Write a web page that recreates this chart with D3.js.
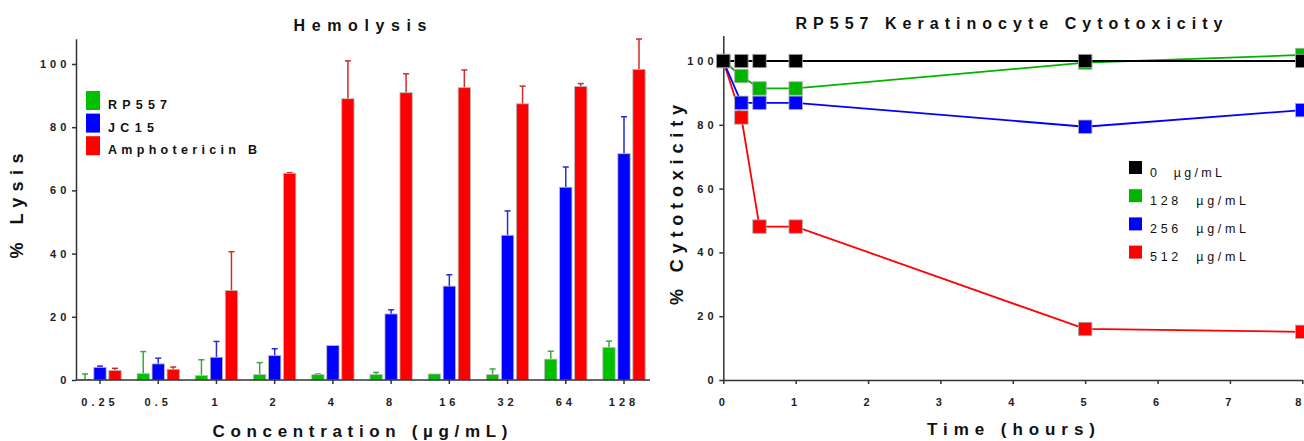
<!DOCTYPE html>
<html>
<head>
<meta charset="utf-8">
<script src="https://cdn.jsdelivr.net/npm/d3@7"></script>
<style>
  body { margin: 0; background: #fff; }
  svg { display: block; font-family: 'Liberation Sans', Arial, sans-serif; }
  .axis path, .axis line { stroke: #333; stroke-width: 1.5px; }
  .axis text { font-size: 11px; font-weight: bold; fill: #222; letter-spacing: 4px; }
</style>
</head>
<body>
<div class="charts"></div>
<script>
'use strict';

// hemolysis (left)
var concentrations = ['0.25', '0.5', '1', '2', '4', '8', '16', '32', '64', '128'];
var seriesNames = ['RP557', 'JC15', 'Amphotericin B'];
var rp557Lysis = [0.1, 2.0, 1.4, 1.7, 1.7, 1.7, 1.9, 1.7, 6.6, 10.3];
var rp557Sd = [1.8, 7.0, 5.0, 3.8, 0.2, 0.7, 0, 1.8, 2.5, 2.0];
var jc15Lysis = [4.0, 5.1, 7.2, 7.7, 10.9, 20.9, 29.7, 45.8, 61.0, 71.6];
var jc15Sd = [0.4, 1.8, 5.0, 2.2, 0, 1.3, 3.6, 7.7, 6.4, 11.7];
var ampBLysis = [3.0, 3.4, 28.3, 65.4, 89.0, 90.9, 92.5, 87.4, 92.9, 98.3];
var ampBSd = [0.7, 0.7, 12.3, 0.2, 12.0, 6.0, 5.6, 5.6, 0.9, 9.6];
var lysisTicks = [0, 20, 40, 60, 80, 100];

// keratinocyte cytotoxicity (right)
var timeHours = [0, 0.25, 0.5, 1, 5, 8];
var doseLabels = ['0 \u00b5g/mL', '128 \u00b5g/mL', '256 \u00b5g/mL', '512 \u00b5g/mL'];
var dose0 = [100, 100, 100, 100, 100, 100];
var dose128 = [100, 95.3, 91.4, 91.4, 99.5, 101.9];
var dose256 = [100, 86.9, 86.9, 86.9, 79.4, 84.6];
var dose512 = [100, 82.3, 48.1, 48.1, 16.0, 15.1];
var cytoTicks = [0, 20, 40, 60, 80, 100];
var timeTicks = [0, 1, 2, 3, 4, 5, 6, 7, 8];

var barColors = ['#00c000', '#0000ff', '#ff0000'];
var errColors = ['#3aa83a', '#2a2ad8', '#d42a2a'];
var lineColors = ['#000000', '#00b400', '#0000ff', '#ff0000'];

var svg = d3.select('.charts').append('svg')
  .attr('width', 1304)
  .attr('height', 441);

function bigText(g, x, y, str, size, len, rotate) {
  var t = g.append('text')
    .attr('text-anchor', 'middle')
    .style('font-size', size + 'px')
    .style('font-weight', 'bold')
    .style('fill', '#111')
    .attr('textLength', len)
    .attr('lengthAdjust', 'spacing')
    .text(str);
  if (rotate) {
    t.attr('transform', 'translate(' + x + ',' + y + ') rotate(-90)');
  } else {
    t.attr('x', x).attr('y', y);
  }
  return t;
}

///////////////////////HEMOLYSIS BAR CHART///////////////////////////////
(function() {
  var left = 76, right = 650, top = 38.7, bottom = 380;
  var step = (624 - 100) / 9;

  var x0 = d3.scaleBand()
    .domain(concentrations)
    .range([100 - step / 2, 624 + step / 2]);
  var x1 = d3.scaleBand()
    .domain(seriesNames)
    .range([0, 45])
    .paddingInner(0.18)
    .paddingOuter(0.09);
  var y = d3.scaleLinear()
    .domain([0, 108])
    .range([bottom, top]);

  var means = [rp557Lysis, jc15Lysis, ampBLysis];
  var sds = [rp557Sd, jc15Sd, ampBSd];
  var rows = [];
  concentrations.forEach(function(c, i) {
    seriesNames.forEach(function(s, j) {
      rows.push({conc: c, series: s, idx: j, mean: means[j][i], sd: sds[j][i]});
    });
  });
  var groupOffset = (x0.bandwidth() - 45) / 2;
  function barX(d) { return x0(d.conc) + groupOffset + x1(d.series); }

  var g = svg.append('g');

  // error bars (upper only)
  var err = g.selectAll('.err')
    .data(rows.filter(function(d) { return d.sd > 0; }))
    .enter().append('g')
    .attr('class', 'err')
    .style('stroke', function(d) { return errColors[d.idx]; })
    .style('stroke-width', 1.5);
  err.append('line')
    .attr('x1', function(d) { return barX(d) + x1.bandwidth() / 2; })
    .attr('x2', function(d) { return barX(d) + x1.bandwidth() / 2; })
    .attr('y1', function(d) { return y(d.mean); })
    .attr('y2', function(d) { return y(d.mean + d.sd); });
  err.append('line')
    .attr('x1', function(d) { return barX(d) + x1.bandwidth() / 2 - 3; })
    .attr('x2', function(d) { return barX(d) + x1.bandwidth() / 2 + 3; })
    .attr('y1', function(d) { return y(d.mean + d.sd); })
    .attr('y2', function(d) { return y(d.mean + d.sd); });

  g.selectAll('.bar')
    .data(rows)
    .enter().append('rect')
    .attr('class', 'bar')
    .attr('x', barX)
    .attr('width', x1.bandwidth())
    .attr('y', function(d) { return y(d.mean); })
    .attr('height', function(d) { return bottom - y(d.mean); })
    .style('fill', function(d) { return barColors[d.idx]; })
    .style('stroke', '#b8b8b8')
    .style('stroke-width', 0.8);

  g.append('g')
    .attr('class', 'axis')
    .attr('transform', 'translate(' + left + ',0)')
    .call(d3.axisLeft(y).tickValues(lysisTicks).tickSize(4).tickSizeOuter(0).tickPadding(5))
    .selectAll('text').attr('dx', '0.3em');

  var xa = g.append('g')
    .attr('class', 'axis')
    .attr('transform', 'translate(0,' + bottom + ')')
    .call(d3.axisBottom(x0).tickSize(4).tickSizeOuter(0).tickPadding(14));
  xa.select('.domain').remove();
  g.append('line')
    .attr('x1', left).attr('x2', right)
    .attr('y1', bottom).attr('y2', bottom)
    .style('stroke', '#333').style('stroke-width', 1.5);

  // legend
  var leg = g.selectAll('.legend')
    .data(seriesNames)
    .enter().append('g')
    .attr('class', 'legend')
    .attr('transform', function(d, i) { return 'translate(86,' + (91 + i * 22.6) + ')'; });
  leg.append('rect')
    .attr('width', 14).attr('height', 19)
    .style('fill', function(d, i) { return barColors[i]; });
  var legLens = [59, 46, 149];
  leg.append('text')
    .attr('x', 22).attr('y', 18)
    .attr('textLength', function(d, i) { return legLens[i]; })
    .attr('lengthAdjust', 'spacing')
    .style('font-size', '12.5px')
    .style('font-weight', 'bold')
    .style('fill', '#111')
    .text(function(d) { return d; });

  bigText(g, 360, 31, 'Hemolysis', 16, 133);
  bigText(g, 360, 437, 'Concentration (\u00b5g/mL)', 17, 295);
  bigText(g, 23, 206, '% Lysis', 18, 105, true);
})();

///////////////////////KERATINOCYTE CYTOTOXICITY///////////////////////////////
(function() {
  var left = 723.3, right = 1302.3, top = 35.5, bottom = 380;

  var x = d3.scaleLinear()
    .domain([0, 8])
    .range([left, right]);
  var y = d3.scaleLinear()
    .domain([0, 108])
    .range([bottom, top]);

  var g = svg.append('g');

  g.append('g')
    .attr('class', 'axis')
    .attr('transform', 'translate(' + left + ',0)')
    .call(d3.axisLeft(y).tickValues(cytoTicks).tickSize(4).tickSizeOuter(0).tickPadding(5))
    .selectAll('text').attr('dx', '0.3em');

  var xLabels = g.append('g')
    .attr('class', 'axis')
    .attr('transform', 'translate(0,' + bottom + ')')
    .call(d3.axisBottom(x).tickValues(timeTicks).tickSize(4).tickSizeOuter(0).tickPadding(14))
    .selectAll('text');
  // last label sits on the picture edge, pull it in a little
  xLabels.filter(function(d) { return d === 8; })
    .style('letter-spacing', '0px')
    .attr('text-anchor', 'end')
    .attr('dx', '-1.5px');

  var series = [dose0, dose128, dose256, dose512].map(function(vals, i) {
    return {label: doseLabels[i], color: lineColors[i], values: vals.map(function(v, k) {
      return {t: timeHours[k], v: v};
    })};
  });

  var line = d3.line()
    .x(function(d) { return x(d.t); })
    .y(function(d) { return y(d.v); });

  // draw 512 first, 0 last so black sits on top
  var drawOrder = series.slice().reverse();
  var sg = g.selectAll('.series')
    .data(drawOrder)
    .enter().append('g')
    .attr('class', 'series');
  sg.append('path')
    .attr('d', function(d) { return line(d.values); })
    .style('fill', 'none')
    .style('stroke', function(d) { return d.color; })
    .style('stroke-width', 1.8);
  sg.selectAll('rect')
    .data(function(d) { return d.values.map(function(p) { return {t: p.t, v: p.v, color: d.color}; }); })
    .enter().append('rect')
    .attr('x', function(d) { return x(d.t) - 6.7; })
    .attr('y', function(d) { return y(d.v) - 6.7; })
    .attr('width', 13.4).attr('height', 13.4)
    .style('fill', function(d) { return d.color; })
    .style('stroke', '#aaa')
    .style('stroke-width', 0.8);

  var leg = g.selectAll('.legend')
    .data(series)
    .enter().append('g')
    .attr('class', 'legend')
    .attr('transform', function(d, i) { return 'translate(1129,' + (161 + i * 28.2) + ')'; });
  leg.append('rect')
    .attr('width', 13).attr('height', 13)
    .style('fill', function(d) { return d.color; });
  var legLens = [72, 96, 96, 96];
  leg.append('text')
    .attr('x', 21).attr('y', 15.5)
    .attr('textLength', function(d, i) { return legLens[i]; })
    .attr('lengthAdjust', 'spacing')
    .style('font-size', '12.5px')
    .style('fill', '#111')
    .style('white-space', 'pre')
    .text(function(d) { return d.label.replace(' ', '  '); });

  bigText(g, 1009, 28.5, 'RP557 Keratinocyte Cytotoxicity', 16, 427);
  bigText(g, 1011, 435, 'Time (hours)', 17, 168);
  bigText(g, 683, 205, '% Cytotoxicity', 18, 200, true);
})();
</script>
</body>
</html>
